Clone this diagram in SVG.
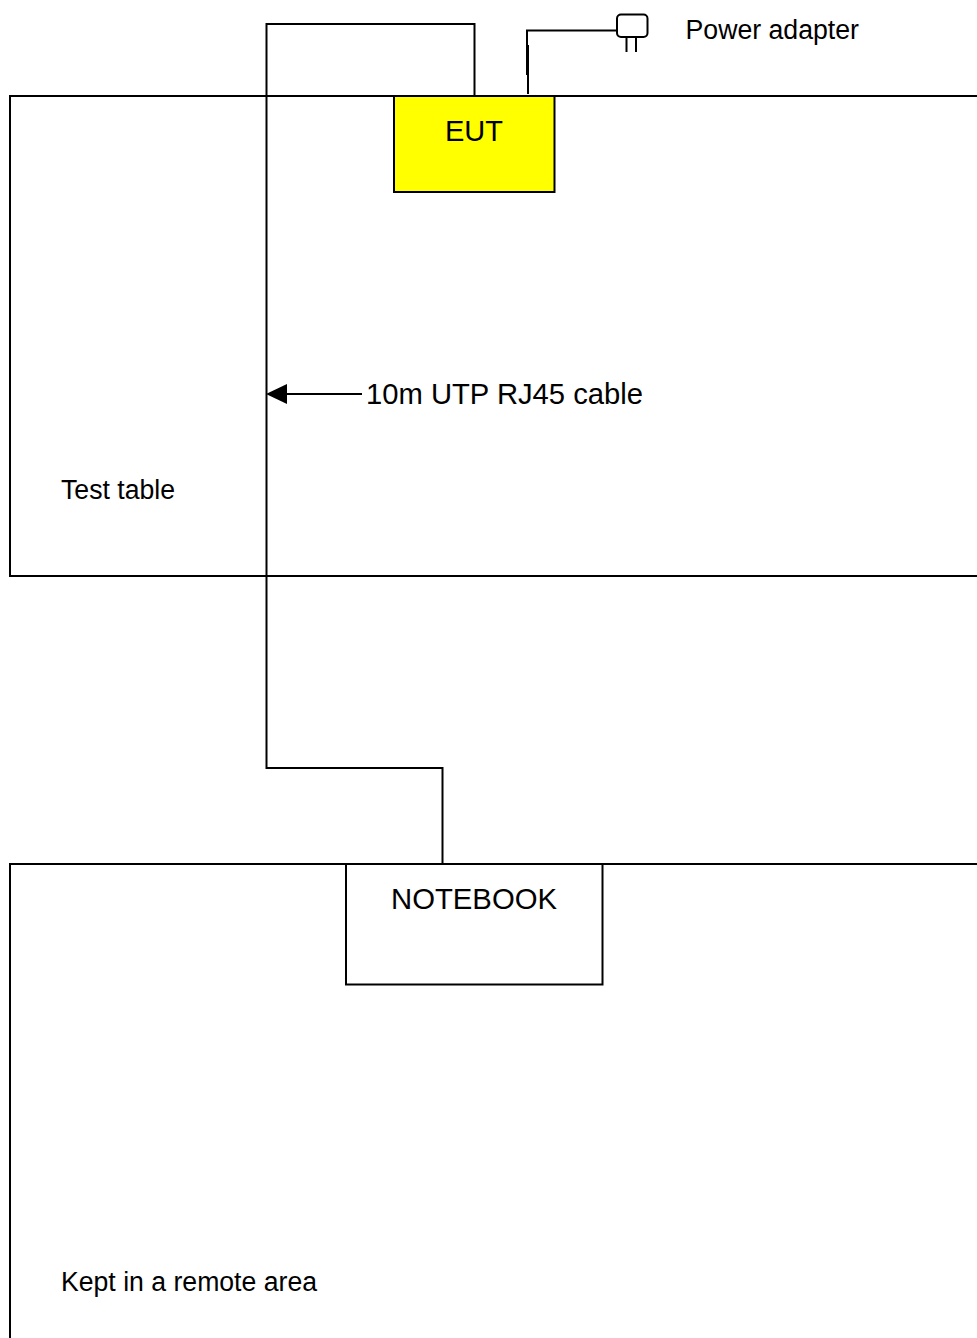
<svg xmlns="http://www.w3.org/2000/svg" width="977" height="1338" viewBox="0 0 977 1338">
<style>
.l{fill:none;stroke:#000;stroke-width:2}
.t{font-family:"Liberation Sans",Arial,sans-serif;fill:#000}
.s{font-size:27px}
.m{font-size:30px}
</style>
<defs><marker id="a" markerUnits="userSpaceOnUse" markerWidth="21" markerHeight="22" refX="0" refY="11" orient="auto"><path d="M21 11L0 1V21Z" fill="#000"/></marker></defs>
<rect width="977" height="1338" fill="#fff"/>
<g id="test-table"><path class="l" d="M978 96H10V576H978"/><text class="t s" x="61" y="499" textLength="114" lengthAdjust="spacingAndGlyphs">Test table</text></g>
<g id="remote-area"><path class="l" d="M978 864H10V1339"/><text class="t s" x="61" y="1291" textLength="256" lengthAdjust="spacingAndGlyphs">Kept in a remote area</text></g>
<g id="eut"><rect x="394" y="96" width="160.500" height="96" fill="#ff0" stroke="#000" stroke-width="2"/><text class="t m" x="445" y="141" textLength="58" lengthAdjust="spacingAndGlyphs">EUT</text></g>
<g id="notebook"><rect x="346" y="864" width="256.500" height="120.500" fill="#fff" stroke="#000" stroke-width="2"/><text class="t m" x="391" y="909" textLength="166" lengthAdjust="spacingAndGlyphs">NOTEBOOK</text></g>
<g id="power-adapter"><rect x="617" y="14.500" width="30.500" height="22.500" rx="4" fill="#fff" stroke="#000" stroke-width="2"/><path class="l" d="M626.500 37V52M636 37V52"/><text class="t s" x="685.500" y="39" textLength="173.500" lengthAdjust="spacingAndGlyphs">Power adapter</text></g>
<g id="connectors">
<path class="l" d="M474.500 96V24H266.500V768H442.500V864"/>
<path class="l" d="M617 30.500H527V75M528 45V94"/>
<path class="l" d="M362 394H287" marker-end="url(#a)"/>
</g>
<text class="t m" x="366" y="404" id="cable-label" textLength="277" lengthAdjust="spacingAndGlyphs">10m UTP RJ45 cable</text>
</svg>
